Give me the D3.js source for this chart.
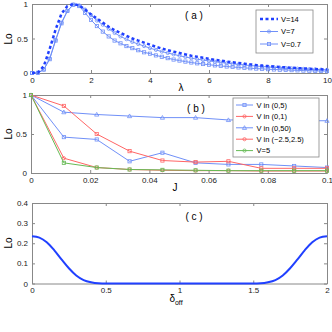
<!DOCTYPE html>
<html>
<head>
<meta charset="utf-8">
<script src="https://cdn.jsdelivr.net/npm/d3@7"></script>
<style>
body { margin: 0; background: #fff; }
text { font-family: "Liberation Sans", Arial, sans-serif; }
</style>
</head>
<body>
<script>
// ---- panel (a) data ----
var lambda_vals = [0,0.2,0.4,0.6,0.8,1.0,1.2,1.4,1.6,1.8,2.0,2.2,2.4,2.6,2.8,3.0,3.2,3.4,3.6,3.8,4.0,4.2,4.4,4.6,4.8,5.0,5.2,5.4,5.6,5.8,6.0,6.2,6.4,6.6,6.8,7.0,7.2,7.4,7.6,7.8,8.0,8.2,8.4,8.6,8.8,9.0,9.2,9.4,9.6,9.8,10]
var lo_v14 = [0,0.005,0.1,0.35,0.63,0.86,0.97,1.0,0.98,0.92,0.85,0.79,0.73,0.67,0.62,0.58,0.54,0.5,0.47,0.44,0.41,0.38,0.355,0.33,0.31,0.29,0.27,0.25,0.235,0.22,0.205,0.19,0.18,0.165,0.155,0.145,0.135,0.125,0.115,0.107,0.1,0.093,0.087,0.081,0.076,0.071,0.066,0.062,0.058,0.054,0.05]
var lo_v7 = [0,0.003,0.05,0.21,0.48,0.73,0.9,0.99,0.98,0.92,0.84,0.76,0.7,0.64,0.58,0.53,0.49,0.45,0.42,0.39,0.36,0.335,0.31,0.29,0.27,0.25,0.232,0.215,0.2,0.187,0.175,0.163,0.152,0.142,0.133,0.124,0.116,0.108,0.101,0.094,0.088,0.082,0.077,0.072,0.067,0.063,0.059,0.055,0.052,0.049,0.046]
var lo_v07 = [0,0.003,0.05,0.2,0.47,0.72,0.9,0.99,0.97,0.87,0.77,0.68,0.6,0.53,0.47,0.43,0.39,0.36,0.33,0.3,0.28,0.255,0.235,0.215,0.195,0.18,0.165,0.152,0.14,0.13,0.12,0.11,0.102,0.094,0.087,0.08,0.074,0.069,0.064,0.059,0.055,0.051,0.047,0.044,0.041,0.038,0.035,0.033,0.031,0.029,0.027]

// ---- panel (b) data ----
var j_vals = [0,0.0111,0.0222,0.0333,0.0444,0.0556,0.0667,0.0778,0.0889,0.1]
var lo_v05 = [1,0.46,0.43,0.15,0.26,0.13,0.11,0.11,0.09,0.07]
var lo_v01 = [1,0.86,0.5,0.28,0.16,0.14,0.15,0.06,0.06,0.06]
var lo_v050 = [1,0.78,0.75,0.73,0.71,0.71,0.68,0.68,0.67,0.67]
var lo_vsym = [1,0.19,0.07,0.045,0.035,0.03,0.03,0.025,0.025,0.025]
var lo_v5 = [1,0.13,0.07,0.045,0.04,0.035,0.03,0.03,0.03,0.03]
var b_names = ["V in (0,5)", "V in (0,1)", "V in (0,50)", "V in (\u22122.5,2.5)", "V=5"]

// ---- panel (c) data ----
var doff_vals = [0,0.05,0.1,0.15,0.2,0.25,0.3,0.35,0.4,0.45,0.5,0.75,1.0,1.25,1.5,1.55,1.6,1.65,1.7,1.75,1.8,1.85,1.9,1.95,2.0]
var lo_c = [0.235,0.228,0.205,0.166,0.12,0.076,0.04,0.017,0.006,0.001,0,0,0,0,0,0.001,0.006,0.017,0.04,0.076,0.12,0.166,0.205,0.228,0.235]

var blue = "#2040ff"
var light_blue = "#7090f8"
var red = "#ff6666"
var green = "#66bb55"
var axis_gray = "#888"

var svg = d3.select("body").append("svg")
.attr("width", 332)
.attr("height", 332)

function make_panel(x0, x1, y0, y1, xdom, ydom, xticks, yticks, xfmt, yfmt) {
    var x = d3.scaleLinear().domain(xdom).range([x0, x1])
    var y = d3.scaleLinear().domain(ydom).range([y1, y0])
    var g = svg.append("g")
    var ax = [
        [d3.axisBottom(x).tickValues(xticks).tickFormat(xfmt), "translate(0," + y1 + ")", true],
        [d3.axisTop(x).tickValues(xticks).tickFormat(""), "translate(0," + y0 + ")", false],
        [d3.axisLeft(y).tickValues(yticks).tickFormat(yfmt), "translate(" + x0 + ",0)", true],
        [d3.axisRight(y).tickValues(yticks).tickFormat(""), "translate(" + x1 + ",0)", false]
    ]
    ax.forEach(function(a) {
        var s = g.append("g").attr("transform", a[1])
        .call(a[0].tickSizeInner(-3).tickSizeOuter(0).tickPadding(4))
        s.select(".domain").attr("stroke", axis_gray)
        s.selectAll(".tick line").attr("stroke", axis_gray)
        s.selectAll(".tick text").attr("font-size", "8px").attr("fill", "#222")
    })
    return {x: x, y: y, g: g}
}

function ylabel(yc) {
    svg.append("text")
    .attr("transform", "translate(12," + yc + ") rotate(-90)")
    .attr("text-anchor", "middle")
    .attr("font-size", "10px")
    .text("Lo")
}

function draw_marker(g, shape, cx, cy, color, r) {
    if (shape == "square") {
        g.append("rect").attr("x", cx - r).attr("y", cy - r).attr("width", 2*r).attr("height", 2*r)
        .attr("fill", "none").attr("stroke", color).attr("stroke-width", 0.8)
    } else if (shape == "circle") {
        g.append("circle").attr("cx", cx).attr("cy", cy).attr("r", r)
        .attr("fill", "none").attr("stroke", color).attr("stroke-width", 0.8)
    } else if (shape == "triangle") {
        g.append("path").attr("d", "M" + cx + "," + (cy - r - 0.5) + "L" + (cx + r + 0.5) + "," + (cy + r) + "L" + (cx - r - 0.5) + "," + (cy + r) + "Z")
        .attr("fill", "none").attr("stroke", color).attr("stroke-width", 0.8)
    }
}

// ---------- panel (a) ----------
var pa = make_panel(32, 327, 4, 73, [0, 10], [0, 1], [0,2,4,6,8,10], [0,0.5,1], d3.format("d"), function(d) { return d == 0.5 ? "0.5" : d })
var line_a = d3.line().x(function(d) { return pa.x(d[0]) }).y(function(d) { return pa.y(d[1]) })

var a_series = [
    {vals: lo_v07, color: light_blue, marker: "square"},
    {vals: lo_v7, color: light_blue, marker: "circle"}
]
a_series.forEach(function(s) {
    var pts = d3.zip(lambda_vals, s.vals)
    pa.g.append("path").attr("d", line_a(pts)).attr("fill", "none")
    .attr("stroke", s.color).attr("stroke-width", 1)
    pts.forEach(function(p) { draw_marker(pa.g, s.marker, pa.x(p[0]), pa.y(p[1]), s.color, 1.6) })
})
pa.g.append("path").attr("d", line_a(d3.zip(lambda_vals, lo_v14))).attr("fill", "none")
.attr("stroke", blue).attr("stroke-width", 2.5).attr("stroke-dasharray", "3,2.5")

svg.append("text").attr("x", 194).attr("y", 19).attr("text-anchor", "middle")
.attr("font-size", "10px").text("( a )")
svg.append("text").attr("x", 181).attr("y", 91).attr("text-anchor", "middle")
.attr("font-size", "10px").text("\u03bb")
ylabel(39)

var leg_a = svg.append("g")
leg_a.append("rect").attr("x", 256).attr("y", 10).attr("width", 57).attr("height", 43)
.attr("fill", "#fff").attr("stroke", axis_gray).attr("stroke-width", 0.8)
var leg_a_items = [
    {name: "V=14", color: blue, dash: "3,2.5", w: 2.5, marker: null},
    {name: "V=7", color: light_blue, dash: null, w: 1, marker: "circle"},
    {name: "V=0.7", color: light_blue, dash: null, w: 1, marker: "square"}
]
leg_a_items.forEach(function(d, i) {
    var yy = 19 + i * 12.5
    leg_a.append("line").attr("x1", 260).attr("x2", 278).attr("y1", yy).attr("y2", yy)
    .attr("stroke", d.color).attr("stroke-width", d.w).attr("stroke-dasharray", d.dash)
    if (d.marker) draw_marker(leg_a, d.marker, 269, yy, d.color, 1.6)
    leg_a.append("text").attr("x", 281).attr("y", yy + 2.8).attr("font-size", "7.5px").text(d.name)
})

// ---------- panel (b) ----------
var pb = make_panel(31, 327, 95, 173, [0, 0.1], [0, 1], [0,0.02,0.04,0.06,0.08,0.1], [0,0.5,1], function(d) { return d == 0 ? "0" : d3.format(".2~f")(d) }, function(d) { return d == 0.5 ? "0.5" : d })
var line_b = d3.line().x(function(d) { return pb.x(d[0]) }).y(function(d) { return pb.y(d[1]) })
var b_series = [
    {vals: lo_v050, color: light_blue, marker: "triangle"},
    {vals: lo_v05, color: light_blue, marker: "square"},
    {vals: lo_v01, color: red, marker: "square"},
    {vals: lo_vsym, color: red, marker: "circle"},
    {vals: lo_v5, color: green, marker: "square"}
]
b_series.forEach(function(s) {
    var pts = d3.zip(j_vals, s.vals)
    pb.g.append("path").attr("d", line_b(pts)).attr("fill", "none")
    .attr("stroke", s.color).attr("stroke-width", 1)
    pts.forEach(function(p) { draw_marker(pb.g, s.marker, pb.x(p[0]), pb.y(p[1]), s.color, 1.6) })
})
svg.append("text").attr("x", 196).attr("y", 112).attr("text-anchor", "middle")
.attr("font-size", "10px").text("( b )")
svg.append("text").attr("x", 175).attr("y", 191).attr("text-anchor", "middle")
.attr("font-size", "10px").text("J")
ylabel(134)

var leg_b = svg.append("g")
leg_b.append("rect").attr("x", 233).attr("y", 98).attr("width", 86).attr("height", 59)
.attr("fill", "#fff").attr("stroke", axis_gray).attr("stroke-width", 0.8)
var leg_b_items = [
    {color: light_blue, marker: "square"},
    {color: red, marker: "circle"},
    {color: light_blue, marker: "triangle"},
    {color: red, marker: "circle"},
    {color: green, marker: "circle"}
]
leg_b_items.forEach(function(d, i) {
    var yy = 105 + i * 11.4
    leg_b.append("line").attr("x1", 236).attr("x2", 253).attr("y1", yy).attr("y2", yy)
    .attr("stroke", d.color).attr("stroke-width", 1)
    draw_marker(leg_b, d.marker, 244.5, yy, d.color, 1.6)
    leg_b.append("text").attr("x", 256.5).attr("y", yy + 2.8).attr("font-size", "7.5px").text(b_names[i])
})

// ---------- panel (c) ----------
var pc = make_panel(32, 327, 203, 283.5, [0, 2], [0, 0.4], [0,0.5,1,1.5,2], [0,0.1,0.2,0.3,0.4], function(d) { return d }, function(d) { return d })
var line_c = d3.line().curve(d3.curveMonotoneX).x(function(d) { return pc.x(d[0]) }).y(function(d) { return pc.y(d[1]) })
pc.g.append("path").attr("d", line_c(d3.zip(doff_vals, lo_c))).attr("fill", "none")
.attr("stroke", blue).attr("stroke-width", 2)
svg.append("text").attr("x", 194).attr("y", 220).attr("text-anchor", "middle")
.attr("font-size", "10px").text("( c )")
var dl = svg.append("text").attr("x", 176).attr("y", 302).attr("text-anchor", "middle").attr("font-size", "10px")
dl.append("tspan").text("\u03b4")
dl.append("tspan").attr("font-size", "7px").attr("dy", 2.5).text("off")
ylabel(243)
</script>
</body>
</html>
